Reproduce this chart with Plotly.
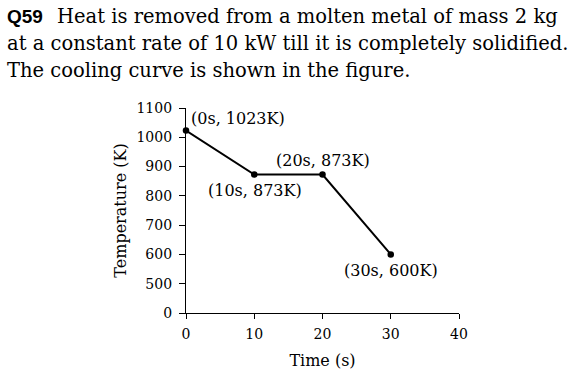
import plotly.graph_objects as go

# ---- data ----
times = [0, 10, 20, 30]
temps = [1023, 873, 873, 600]
point_labels = ["(0s, 1023K)", "(10s, 873K)", "(20s, 873K)", "(30s, 600K)"]
x_ticks = [0, 10, 20, 30, 40]
y_ticks = [0, 500, 600, 700, 800, 900, 1000, 1100]
title_lines = [
    "Heat is removed from a molten metal of mass 2 kg",
    "at a constant rate of 10 kW till it is completely solidified.",
    "The cooling curve is shown in the figure.",
]

# broken y axis: 0 .. 500 compressed to one tick step
def ypos(v):
    return 0 if v <= 0 else (v - 400) / 100.0

SERIF = "DejaVu Serif"
W, H = 580, 377
L, T = 186, 108
R = W - 459
B = H - 313
pw, ph = W - L - R, H - T - B

def px(x):
    return (x - L) / pw

def py(y):
    return (H - B - y) / ph

fig = go.Figure()
fig.add_trace(go.Scatter(
    x=times, y=[ypos(t) for t in temps], mode="lines+markers",
    line=dict(color="black", width=2), marker=dict(color="black", size=6.5),
    cliponaxis=False, hoverinfo="skip", showlegend=False))

# point labels: (xanchor, xshift, yshift)
offs = [("left", 3, 12), ("center", 1, -16.5), ("center", 0, 13.5), ("center", 0, -16.5)]
ann = []
for t, v, lab, (xa, xs, ys) in zip(times, temps, point_labels, offs):
    ann.append(dict(x=t, y=ypos(v), text=lab, showarrow=False, xanchor=xa,
                    yanchor="middle", xshift=xs, yshift=ys,
                    font=dict(family=SERIF, size=16, color="black")))

# question text
ann.append(dict(x=px(5), y=py(16.5), xref="paper", yref="paper", text="<b>Q59</b>",
                showarrow=False, xanchor="left", yanchor="middle",
                font=dict(family="Liberation Sans", size=19, color="black")))
starts = [55, 5, 5]
ys = [16.5, 44, 70]
for line, sx, yy in zip(title_lines, starts, ys):
    ann.append(dict(x=px(sx), y=py(yy), xref="paper", yref="paper", text=line,
                    showarrow=False, xanchor="left", yanchor="middle",
                    font=dict(family=SERIF, size=19.5, color="black")))

fig.update_layout(
    width=W, height=H, margin=dict(l=L, r=R, t=T, b=B),
    paper_bgcolor="white", plot_bgcolor="white",
    annotations=ann,
    xaxis=dict(range=[0, 40], tickvals=x_ticks, ticktext=[str(v) for v in x_ticks],
               showgrid=False, zeroline=False, showline=True, linecolor="black",
               linewidth=1.3, ticks="outside", ticklen=5, tickcolor="black", tickwidth=1.2,
               ticklabelstandoff=3,
               tickfont=dict(family=SERIF, size=14, color="black"),
               title=dict(text="Time (s)", font=dict(family=SERIF, size=16, color="black"),
                          standoff=13)),
    yaxis=dict(range=[0, 7], tickvals=[ypos(v) for v in y_ticks],
               ticktext=[str(v) for v in y_ticks],
               showgrid=False, zeroline=False, showline=True, linecolor="black",
               linewidth=1.3, ticks="outside", ticklen=6, tickcolor="black", tickwidth=1.2,
               ticklabelstandoff=4,
               tickfont=dict(family=SERIF, size=14, color="black"),
               title=dict(text="Temperature (K)",
                          font=dict(family=SERIF, size=16, color="black"), standoff=5)),
)

fig.write_html("out.html", config={"displayModeBar": False},
               post_script="document.body.style.margin='0';document.body.style.overflow='hidden';")
